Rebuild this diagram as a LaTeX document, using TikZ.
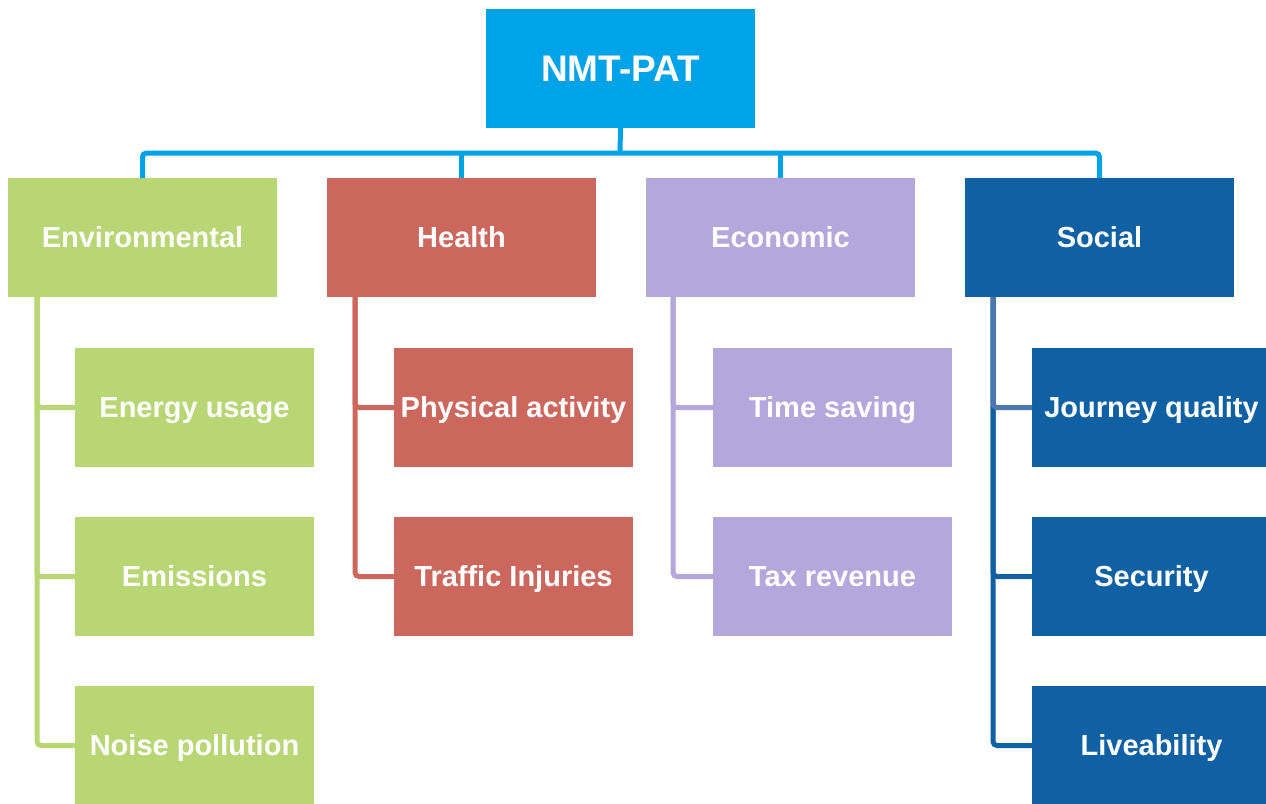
\documentclass[tikz,border=0pt]{standalone}
\usepackage{fontspec}
\setmainfont{Liberation Sans}
\definecolor{topblue}{RGB}{0,162,232}
\definecolor{envgreen}{RGB}{184,214,116}
\definecolor{healthred}{RGB}{204,103,94}
\definecolor{econpurple}{RGB}{180,167,219}
\definecolor{socblue}{RGB}{16,97,164}
\definecolor{soclight}{RGB}{74,120,175}
\tikzset{
  box/.style={anchor=north west, minimum width=269pt, minimum height=119pt, inner sep=0pt, outer sep=0pt, text=white, text height=20.8pt, text depth=0pt, font=\bfseries\fontsize{29}{32}\selectfont},
  topbox/.style={box, text height=26.5pt, font=\bfseries\fontsize{37}{40}\selectfont},
  child/.style={box, minimum width=239pt},
  link/.style={line width=5pt, rounded corners=4pt},
}
\begin{document}
\begin{tikzpicture}[x=1pt,y=-1pt]
\useasboundingbox (0,0) rectangle (1266,803);
\clip (0,0) rectangle (1266,803);
% coordinates
\coordinate (bus) at (620,153);
\coordinate (el) at (37,297);
\coordinate (hl) at (355,297);
\coordinate (cl) at (673,297);
\coordinate (sl) at (993,297);
% children
\node[child, fill=envgreen] (e1) at (75,348) {Energy usage};
\node[child, fill=envgreen] (e2) at (75,517) {Emissions};
\node[child, fill=envgreen] (e3) at (75,686) {Noise pollution};
\node[child, fill=healthred] (h1) at (394,348) {Physical activity};
\node[child, fill=healthred] (h2) at (394,517) {Traffic Injuries};
\node[child, fill=econpurple] (c1) at (713,348) {Time saving};
\node[child, fill=econpurple] (c2) at (713,517) {Tax revenue};
\node[child, fill=socblue] (s1) at (1032,348) {Journey quality};
\node[child, fill=socblue] (s2) at (1032,517) {Security};
\node[child, fill=socblue] (s3) at (1032,686) {Liveability};
% branch connectors
\draw[link, envgreen] (el) |- (e1.west);
\draw[link, envgreen] (el) |- (e2.west);
\draw[link, envgreen] (el) |- (e3.west);
\draw[link, healthred] (hl) |- (h1.west);
\draw[link, healthred] (hl) |- (h2.west);
\draw[link, econpurple] (cl) |- (c1.west);
\draw[link, econpurple] (cl) |- (c2.west);
\draw[link, socblue] (sl) |- (s2.west);
\draw[link, socblue] (sl) |- (s3.west);
\draw[link, soclight] (sl) |- (s1.west);
% top and categories
\node[topbox, fill=topblue] (top) at (486,9) {NMT-PAT};
\node[box, fill=envgreen] (env) at (8,178) {Environmental};
\node[box, fill=healthred] (hea) at (327,178) {Health};
\node[box, fill=econpurple] (eco) at (646,178) {Economic};
\node[box, fill=socblue] (soc) at (965,178) {Social};
% top connectors
\draw[link, topblue] (top.south) -- (bus);
\draw[link, topblue] (env.north) |- (bus) -| (soc.north);
\draw[link, topblue] (hea.north |- bus) -- (hea.north);
\draw[link, topblue] (eco.north |- bus) -- (eco.north);
\end{tikzpicture}
\end{document}
